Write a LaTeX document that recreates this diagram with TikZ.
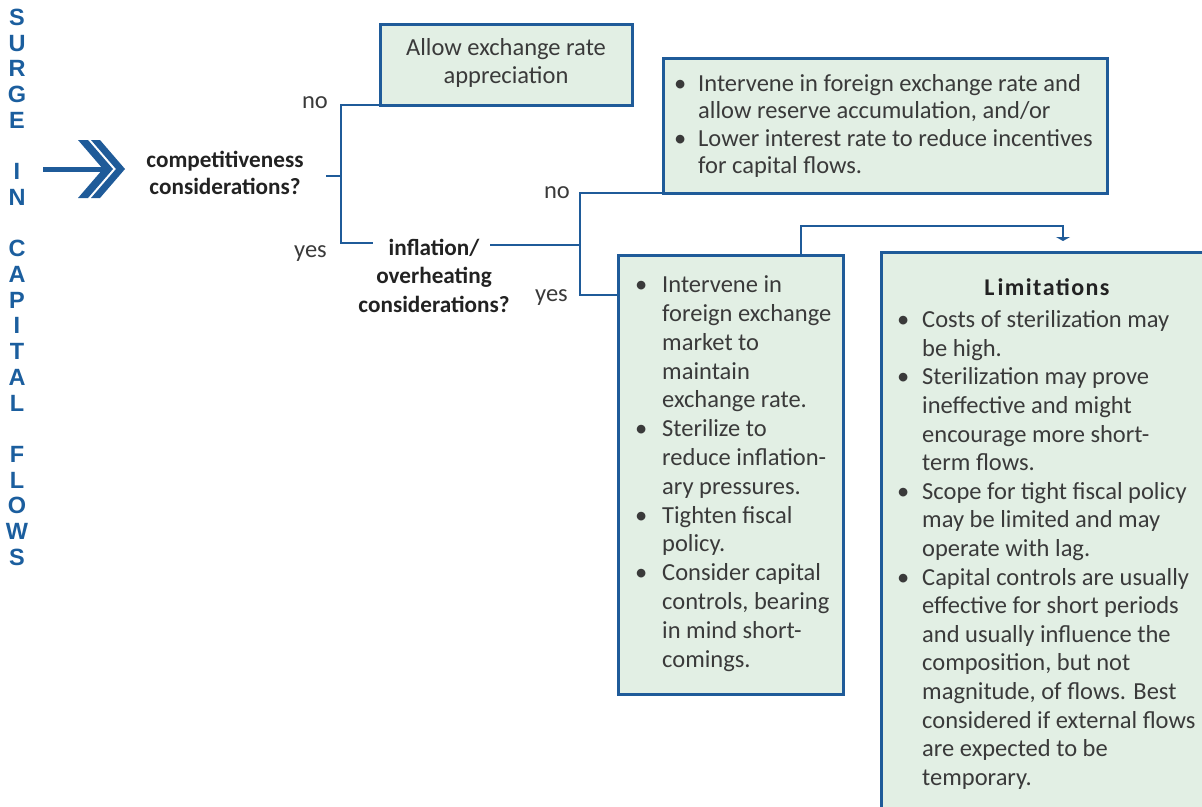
\documentclass[tikz,border=0pt]{standalone}
\usepackage{fontspec}
\setmainfont{Carlito}
\newfontfamily\vfont{Liberation Sans}
\newfontfamily\limfont[LetterSpace=6]{Carlito}
\usetikzlibrary{arrows.meta}
\definecolor{lineblue}{HTML}{1F5B99}
\definecolor{boxfill}{HTML}{E2EFE4}
\definecolor{txt}{HTML}{3A3A3A}
\definecolor{lbl}{HTML}{222222}
\definecolor{vblue}{HTML}{1B5E9E}
\newcommand\fs{\rule{0pt}{20pt}}
\newcommand\bu[1]{\makebox[12pt][c]{\textbullet}\hspace*{\dimexpr#1-12pt\relax}}
\newcommand\ind[1]{\hspace*{#1}}
\tikzset{
  box/.style={draw=lineblue, line width=3pt, fill=boxfill, inner sep=0pt, outer sep=0pt, anchor=north west},
  conn/.style={draw=lineblue, line width=2.4pt},
  boxtext/.style={inner sep=0pt, anchor=north west, align=left, text=txt},
  ctext/.style={inner sep=0pt, anchor=north, align=center, text=txt},
  bodyfont/.style={font=\fontsize{24.5}{#1}\selectfont},
  qlabel/.style={inner sep=0pt, anchor=north, align=center, text=lbl, font=\fontsize{23.2}{#1}\selectfont\bfseries},
  yn/.style={inner sep=0pt, anchor=base east, text=txt, font=\fontsize{24.5}{28}\selectfont},
  vl/.style={inner sep=0pt, anchor=base, text=vblue, font=\vfont\fontsize{23.5}{23.5}\selectfont\bfseries}
}
\begin{document}
\begin{tikzpicture}[x=1pt,y=-1pt]
\useasboundingbox (0,0) rectangle (1202,806);
\fill[white] (0,0) rectangle (1202,806);
\clip (0,0) rectangle (1202,806);

% vertical title
\foreach \ch [count=\k from 0] in {S,U,R,G,E,{},I,N,{},C,A,P,I,T,A,L,{},F,L,O,W,S}
  \node[vl] (v\k) at (17,{25.5+25.7*\k}) {\ch};

% entry arrow
\coordinate (a0) at (43,169);
\coordinate (a1) at (103,169);
\draw[lineblue, line width=5pt] (a0) -- (a1);
\fill[lineblue] (78,140) -- (88,140) -- (113,169) -- (88,198) -- (78,198) -- (103,169) -- cycle;
\fill[lineblue] (91,140) -- (100,140) -- (125,169) -- (100,198) -- (91,198) -- (116,169) -- cycle;

% questions
\node[qlabel=27] (comp) at (225,147) {\fs competitiveness\\considerations?};
\node[qlabel=28.5] (infl) at (434,235) {\fs inflation/\\overheating\\considerations?};

% boxes
\node[box, minimum width=252pt, minimum height=81pt] (A) at (380,24) {};
\node[box, minimum width=444pt, minimum height=135pt] (B) at (663,58) {};
\node[box, minimum width=225pt, minimum height=439pt] (C) at (618,255) {};
\node[box, minimum width=420pt, minimum height=600pt] (D) at (881,252) {};

% box texts
\node[ctext, bodyfont=28] (At) at (506,35.5) {\fs Allow exchange rate\\appreciation};
\node[boxtext, bodyfont=27.5] (Bt) at (674,71) {\fs\bu{24pt}Intervene in foreign exchange rate and\\
\ind{24pt}allow reserve accumulation, and/or\\
\bu{24pt}Lower interest rate to reduce incentives\\
\ind{24pt}for capital flows.};
\node[boxtext, bodyfont=28.8] (Ct) at (635,272.5) {\fs\bu{27pt}Intervene in\\
\ind{27pt}foreign exchange\\
\ind{27pt}market to\\
\ind{27pt}maintain\\
\ind{27pt}exchange rate.\\
\bu{27pt}Sterilize to\\
\ind{27pt}reduce inflation-\\
\ind{27pt}ary pressures.\\
\bu{27pt}Tighten fiscal\\
\ind{27pt}policy.\\
\bu{27pt}Consider capital\\
\ind{27pt}controls, bearing\\
\ind{27pt}in mind short-\\
\ind{27pt}comings.};
\node[inner sep=0pt, anchor=base, text=lbl, font=\limfont\fontsize{24}{24}\selectfont\bfseries] (Dh) at (1047,295) {L\hspace{3pt}imitations};
\node[boxtext, bodyfont=28.6] (Dt) at (897,307.5) {\fs\bu{25pt}Costs of sterilization may\\
\ind{25pt}be high.\\
\bu{25pt}Sterilization may prove\\
\ind{25pt}ineffective and might\\
\ind{25pt}encourage more short-\\
\ind{25pt}term flows.\\
\bu{25pt}Scope for tight fiscal policy\\
\ind{25pt}may be limited and may\\
\ind{25pt}operate with lag.\\
\bu{25pt}Capital controls are usually\\
\ind{25pt}effective for short periods\\
\ind{25pt}and usually influence the\\
\ind{25pt}composition, but not\\
\ind{25pt}magnitude, of flows. Best\\
\ind{25pt}considered if external flows\\
\ind{25pt}are expected to be\\
\ind{25pt}temporary.};

% yes / no labels
\node[yn] (no1) at (328,108) {no};
\node[yn] (yes1) at (327,257) {yes};
\node[yn] (no2) at (570,198) {no};
\node[yn] (yes2) at (568,301) {yes};

% connectors
\coordinate (t1) at (326,176);
\coordinate (j1) at (341,176);
\coordinate (t2) at (373,243);
\draw[conn] (t1) -- (j1);
\draw[conn] (A.south west) -| (j1) |- (t2);
\coordinate (t3) at (490,245);
\coordinate (j2) at (580,245);
\draw[conn] (t3) -- (j2);
\draw[conn] (B.south west) -| (j2) |- ([yshift=-40pt]C.north west);
\draw[conn, -{Triangle[width=14pt,length=4pt]}] ([xshift=183pt]C.north west) -- ++(0,-29) -| ([xshift=182pt,yshift=11pt]D.north west);
\end{tikzpicture}
\end{document}
